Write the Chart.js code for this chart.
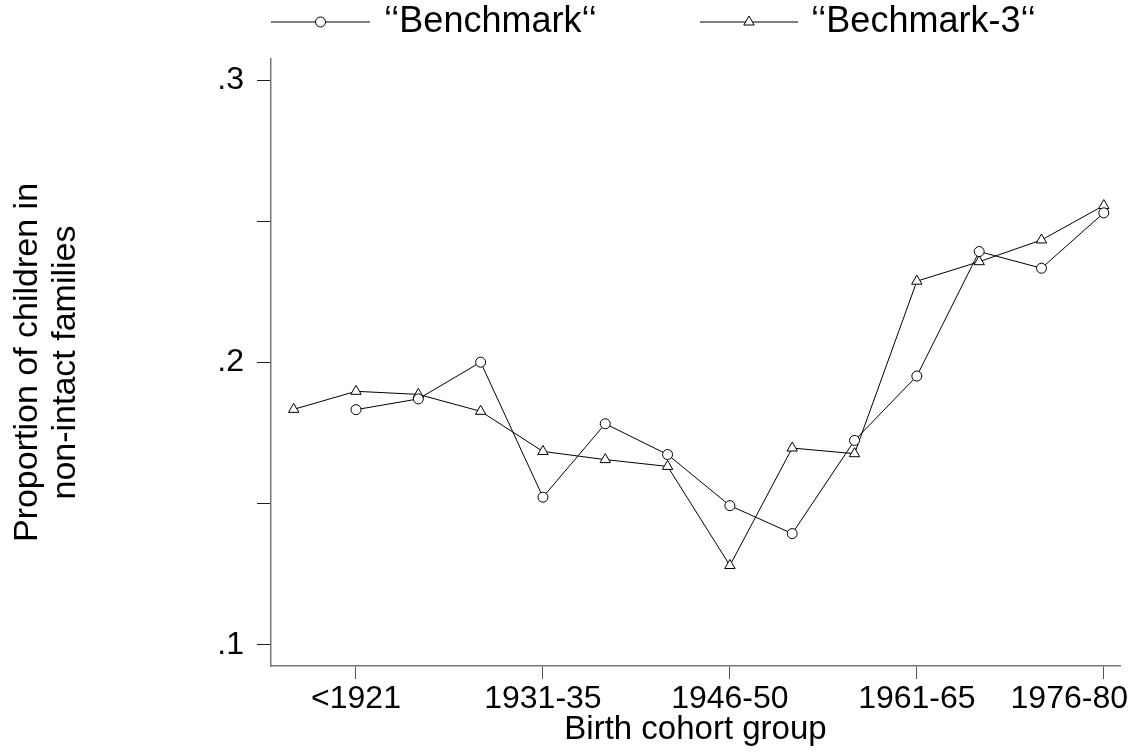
<!DOCTYPE html>
<html>
<head>
<meta charset="utf-8">
<script src="https://cdn.jsdelivr.net/npm/chart.js@4.4.1/dist/chart.umd.min.js"></script>
<style>
  html, body { margin: 0; padding: 0; background: #fff; }
  #wrap { width: 1130px; height: 753px; }
</style>
</head>
<body>
<div id="wrap"><canvas id="c" width="1130" height="753"></canvas></div>
<script>
const categories = ['<1916','<1921','1921-25','1926-30','1931-35','1936-40','1941-45','1946-50','1951-55','1956-60','1961-65','1966-70','1971-75','1976-80'];
const xTickIndices = [1, 4, 7, 10, 13];
const benchmark = [null, 0.1833, 0.1871, 0.2001, 0.1523, 0.1783, 0.1674, 0.1493, 0.1394, 0.1724, 0.1952, 0.2393, 0.2334, 0.2530];
const bechmark3 = [0.1834, 0.1898, 0.1887, 0.1827, 0.1685, 0.1656, 0.1632, 0.1281, 0.1697, 0.1677, 0.2288, 0.2357, 0.2434, 0.2556];
const yTickValues = [0.1, 0.15, 0.2, 0.25, 0.3];
const yTickLabels = ['.1', '', '.2', '', '.3'];
const seriesNames = ['\u2018\u2018Benchmark\u2018\u2018', '\u2018\u2018Bechmark-3\u2018\u2018'];

const FONT = "'Liberation Sans', Arial, Helvetica, sans-serif";

function toPoints(arr) {
  return arr.map((v, i) => ({ x: i, y: v }));
}

// keep the last x tick label inside the canvas (right-aligned at the edge)
const edgeLabelPlugin = {
  id: 'edgeLabel',
  beforeDraw(chart) {
    const sc = chart.scales.x;
    const items = sc.getLabelItems();
    if (!items.length) return;
    const last = items[items.length - 1];
    last.options.textAlign = 'right';
    last.options.translation[0] = chart.width - 2;
  }
};

const legendPlugin = {
  id: 'lineLegend',
  afterDraw(chart) {
    const ctx = chart.ctx;
    const items = [
      { x0: 271, x1: 370, text: 384 },
      { x0: 700, x1: 798, text: 811 }
    ];
    const y = 22;
    ctx.save();
    chart.data.datasets.forEach((ds, i) => {
      const it = items[i];
      ctx.strokeStyle = '#000';
      ctx.lineWidth = 1;
      ctx.beginPath();
      ctx.moveTo(it.x0, y);
      ctx.lineTo(it.x1, y);
      ctx.stroke();
      const cx = (it.x0 + it.x1) / 2;
      ctx.fillStyle = '#fff';
      ctx.strokeStyle = '#000';
      Chart.helpers.drawPoint(ctx, {
        pointStyle: ds.pointStyle,
        radius: ds.pointRadius,
        borderWidth: 1,
        rotation: 0
      }, cx, y);
      ctx.fillStyle = '#000';
      ctx.font = "36px " + FONT;
      ctx.textBaseline = 'middle';
      ctx.textAlign = 'left';
      ctx.fillText(ds.label, it.text, y);
    });
    ctx.restore();
  }
};

new Chart(document.getElementById('c'), {
  type: 'line',
  data: {
    datasets: [
      {
        label: seriesNames[0],
        data: toPoints(benchmark),
        borderColor: '#000',
        backgroundColor: '#fff',
        borderWidth: 1,
        pointStyle: 'circle',
        pointRadius: 5,
        pointBorderWidth: 1,
        pointBackgroundColor: '#fff',
        pointBorderColor: '#000',
        tension: 0,
        spanGaps: false
      },
      {
        label: seriesNames[1],
        data: toPoints(bechmark3),
        borderColor: '#000',
        backgroundColor: '#fff',
        borderWidth: 1,
        pointStyle: 'triangle',
        pointRadius: 6,
        pointBorderWidth: 1,
        pointBackgroundColor: '#fff',
        pointBorderColor: '#000',
        tension: 0
      }
    ]
  },
  options: {
    responsive: false,
    animation: false,
    events: [],
    layout: { padding: { left: 0, right: 10, top: 59, bottom: 0 } },
    plugins: {
      legend: { display: false },
      tooltip: { enabled: false },
      title: { display: false }
    },
    scales: {
      x: {
        type: 'linear',
        min: -0.364,
        max: 13.26,
        afterBuildTicks(scale) {
          scale.ticks = xTickIndices.map(v => ({ value: v }));
        },
        afterFit(scale) {
          scale.height = 87;
          scale.paddingLeft = 0;
          scale.paddingRight = 0;
        },
        ticks: {
          autoSkip: false,
          maxRotation: 0,
          padding: 1,
          color: '#000',
          font: { family: FONT, size: 32 },
          callback: (v) => categories[v]
        },
        grid: {
          drawOnChartArea: false,
          drawTicks: true,
          tickLength: 13,
          color: '#555',
          lineWidth: 1
        },
        border: { display: true, color: '#777', width: 1.5 },
        title: {
          display: true,
          text: 'Birth cohort group',
          color: '#000',
          font: { family: FONT, size: 33, lineHeight: 1.2 },
          padding: { top: 0, bottom: 3 }
        }
      },
      y: {
        type: 'linear',
        min: 0.0925,
        max: 0.3075,
        afterBuildTicks(scale) {
          scale.ticks = yTickValues.map(v => ({ value: v }));
        },
        afterFit(scale) {
          scale.width = 271;
          scale.paddingTop = 0;
          scale.paddingBottom = 0;
        },
        ticks: {
          padding: 13,
          color: '#000',
          font: { family: FONT, size: 32 },
          callback: (v) => {
            const i = yTickValues.findIndex(t => Math.abs(t - v) < 1e-9);
            return i >= 0 ? yTickLabels[i] : '';
          }
        },
        grid: {
          drawOnChartArea: false,
          drawTicks: true,
          tickLength: 14,
          color: '#222',
          lineWidth: 1
        },
        border: { display: true, color: '#777', width: 1.5 },
        title: {
          display: true,
          text: ['Proportion of children in', 'non-intact families'],
          color: '#000',
          font: { family: FONT, size: 34, lineHeight: 1.12 },
          padding: { top: 9, bottom: 0 }
        }
      }
    }
  },
  plugins: [edgeLabelPlugin, legendPlugin]
});
</script>
</body>
</html>
